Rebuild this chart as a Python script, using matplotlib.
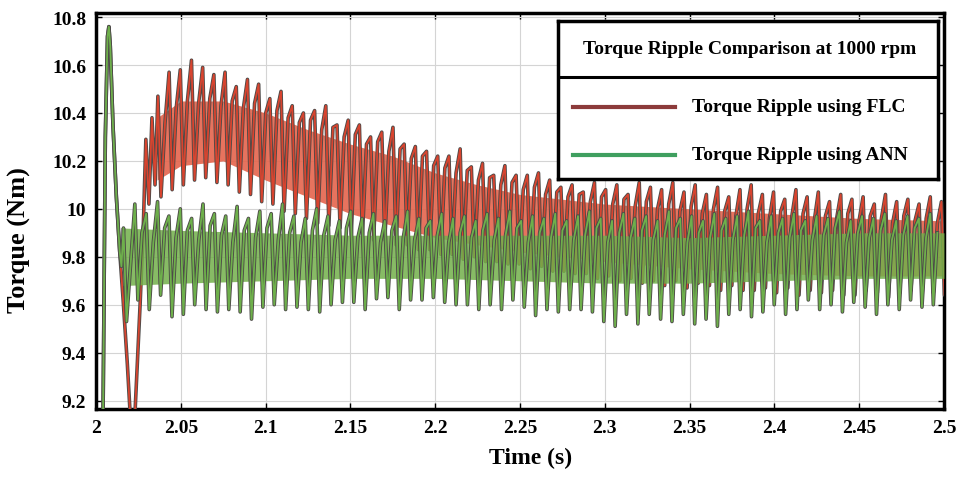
import numpy as np
import matplotlib.pyplot as plt
import matplotlib.patheffects as pe
from matplotlib.ticker import FormatStrFormatter, MultipleLocator

plt.rcParams['font.family'] = ['Liberation Serif', 'DejaVu Serif']
plt.rcParams['font.weight'] = 'bold'

# start-up transient, common to both drives (s, Nm)
start_t = [2.0, 2.0040, 2.0055, 2.0068, 2.0076, 2.0084, 2.0100, 2.0120, 2.0140]
start_v = [8.60, 9.00, 10.30, 10.72, 10.76, 10.68, 10.35, 10.05, 9.82]

# FLC: dip below the axis, then rise into the ripple
flc_tr_t = [2.0160, 2.0185, 2.0205, 2.0220, 2.0240, 2.0260, 2.0280, 2.0294, 2.0312, 2.0330, 2.0348]
flc_tr_v = [9.62, 9.35, 9.10, 9.00, 9.30, 9.60, 9.95, 10.29, 10.02, 10.38, 10.10]

# FLC ripple: spike top, spike bottom and sub-peak of each cycle from 2.0365 s
flc_t0, flc_period = 2.0365, 0.0066
flc_peak = [10.47, 10.57, 10.58, 10.62, 10.59, 10.56, 10.57, 10.51, 10.54, 10.52,
            10.46, 10.49, 10.43, 10.40, 10.41, 10.43, 10.35, 10.37, 10.35, 10.30,
            10.32, 10.34, 10.27, 10.26, 10.24, 10.22, 10.22, 10.25, 10.175, 10.19,
            10.14, 10.18, 10.14, 10.14, 10.15, 10.12, 10.09, 10.10, 10.07, 10.11,
            10.08, 10.10, 10.06, 10.11, 10.09, 10.08, 10.11, 10.07, 10.10, 10.06,
            10.09, 10.05, 10.08, 10.10, 10.06, 10.07, 10.04, 10.08, 10.05, 10.07,
            10.03, 10.06, 10.04, 10.05, 10.02, 10.06, 10.03, 10.04, 10.02, 10.05,
            10.03]
flc_trough = [10.05, 10.08, 10.10, 10.12, 10.13, 10.11, 10.10, 10.07, 10.06, 10.03,
              10.02, 9.99, 9.98, 9.96, 9.94, 9.93, 9.92, 9.89, 9.89, 9.87,
              9.87, 9.85, 9.85, 9.83, 9.83, 9.81, 9.81, 9.79, 9.80, 9.78,
              9.78, 9.77, 9.77, 9.75, 9.76, 9.74, 9.74, 9.73, 9.73, 9.71,
              9.72, 9.70, 9.71, 9.69, 9.70, 9.68, 9.70, 9.67, 9.69, 9.68,
              9.66, 9.68, 9.66, 9.66, 9.67, 9.65, 9.67, 9.64, 9.66, 9.65,
              9.66, 9.64, 9.64, 9.66, 9.65, 9.63, 9.65, 9.66, 9.64, 9.65,
              9.64]
flc_mid = [10.36, 10.42, 10.45, 10.44, 10.46, 10.43, 10.45, 10.42, 10.44, 10.40,
           10.41, 10.38, 10.36, 10.37, 10.33, 10.34, 10.30, 10.31, 10.27, 10.28,
           10.24, 10.25, 10.21, 10.22, 10.18, 10.17, 10.15, 10.16, 10.12, 10.13,
           10.10, 10.11, 10.08, 10.09, 10.06, 10.07, 10.05, 10.06, 10.03, 10.05,
           10.02, 10.04, 10.01, 10.03, 10.00, 10.02, 9.99, 10.01, 9.98, 10.00,
           9.99, 9.97, 10.00, 9.98, 9.96, 9.99, 9.97, 9.98, 9.95, 9.97,
           9.96, 9.98, 9.95, 9.97, 9.96, 9.94, 9.97, 9.95, 9.96, 9.94,
           9.96]

# dense part of the FLC band
flc_band_t = [2.036, 2.05, 2.075, 2.10, 2.125, 2.15, 2.175, 2.20, 2.225, 2.25, 2.30, 2.35, 2.40, 2.45, 2.50]
flc_band_lo = [10.12, 10.18, 10.20, 10.12, 10.05, 9.98, 9.93, 9.88, 9.85, 9.82, 9.78, 9.75, 9.73, 9.72, 9.72]
flc_band_hi = [10.38, 10.45, 10.45, 10.40, 10.33, 10.27, 10.22, 10.15, 10.10, 10.06, 10.02, 10.00, 9.98, 9.96, 9.95]

# ANN: leaves the transient here, then ripples around 9.8
ann_tr_t = [2.0150, 2.0162, 2.0180]
ann_tr_v = [9.76, 9.92, 9.53]

ann_t0, ann_period = 2.0247, 0.0067   # times of the downward spikes
ann_peak = [10.02, 9.98, 10.03, 9.97, 10.00, 9.96, 10.02, 9.98, 9.97, 10.01,
            9.96, 9.99, 9.98, 10.02, 9.97, 9.96, 10.00, 9.97, 9.95, 9.99,
            9.96, 9.98, 9.95, 9.97, 9.99, 9.96, 9.95, 9.98, 9.96, 9.97,
            9.95, 9.98, 9.96, 9.99, 9.95, 9.97, 9.96, 9.98, 9.95, 9.97,
            9.99, 9.96, 9.95, 9.98, 9.96, 9.97, 9.95, 9.99, 9.96, 9.97,
            9.95, 9.98, 9.96, 9.97, 9.99, 9.95, 9.97, 9.96, 9.98, 9.95,
            9.97, 9.96, 9.99, 9.95, 9.97, 9.96, 9.98, 9.95, 9.97, 9.96,
            9.98]
ann_trough = [9.62, 9.58, 9.64, 9.55, 9.56, 9.60, 9.58, 9.57, 9.58, 9.57,
              9.54, 9.59, 9.60, 9.58, 9.59, 9.58, 9.57, 9.60, 9.61, 9.61,
              9.58, 9.625, 9.63, 9.58, 9.62, 9.62, 9.63, 9.61, 9.60, 9.60,
              9.58, 9.60, 9.58, 9.62, 9.59, 9.555, 9.58, 9.57, 9.58, 9.58,
              9.57, 9.53, 9.51, 9.56, 9.52, 9.56, 9.54, 9.53, 9.56, 9.52,
              9.54, 9.51, 9.56, 9.58, 9.55, 9.57, 9.60, 9.56, 9.58, 9.62,
              9.58, 9.60, 9.57, 9.61, 9.59, 9.56, 9.60, 9.58, 9.62, 9.59,
              9.60]
ann_mid = [9.90, 9.86, 9.92, 9.88, 9.91, 9.87, 9.93, 9.89, 9.86, 9.91,
           9.88, 9.92, 9.87, 9.90, 9.86, 9.91, 9.89, 9.87, 9.92, 9.88,
           9.90, 9.86, 9.91, 9.88, 9.87, 9.92, 9.89, 9.86, 9.90, 9.88,
           9.91, 9.87, 9.89, 9.92, 9.86, 9.90, 9.88, 9.91, 9.87, 9.89,
           9.92, 9.86, 9.90, 9.88, 9.91, 9.87, 9.89, 9.92, 9.86, 9.90,
           9.88, 9.91, 9.87, 9.89, 9.92, 9.86, 9.90, 9.88, 9.91, 9.87,
           9.89, 9.92, 9.86, 9.90, 9.88, 9.91, 9.87, 9.89, 9.92, 9.88,
           9.90]

ann_band_t = [2.016, 2.05, 2.10, 2.15, 2.20, 2.25, 2.30, 2.35, 2.40, 2.45, 2.50]
ann_band_lo = [9.68, 9.69, 9.70, 9.71, 9.71, 9.70, 9.69, 9.69, 9.70, 9.71, 9.71]
ann_band_hi = [9.92, 9.91, 9.90, 9.89, 9.89, 9.89, 9.89, 9.88, 9.89, 9.90, 9.90]

legend_title = 'Torque Ripple Comparison at 1000 rpm'
label_flc = 'Torque Ripple using FLC'
label_ann = 'Torque Ripple using ANN'


def cycles(t0, period, offsets, series):
    # each cycle visits its listed values at fixed offsets inside the period
    k = np.arange(len(series[0]))
    t = (t0 + k * period)[:, None] + np.array(offsets)[None, :]
    v = np.column_stack(series)
    return list(t.ravel()), list(v.ravel())


fig = plt.figure(figsize=(9.6, 4.81), dpi=100)
ax = fig.add_axes([96 / 960, 1 - 410 / 481, 848 / 960, 396 / 481])

edge = [pe.Stroke(linewidth=2.6, foreground='#4d4a48'), pe.Normal()]

# FLC
ft, fv = cycles(flc_t0, flc_period, [0.0, 0.0018, 0.0042], [flc_peak, flc_trough, flc_mid])
ax.fill_between(flc_band_t, flc_band_lo, flc_band_hi, color='#e5644c', lw=0, alpha=0.9, zorder=2)
ax.plot(start_t + flc_tr_t + ft, start_v + flc_tr_v + fv,
        color='#d8442f', lw=1.3, zorder=3, path_effects=edge)

# ANN
at, av = cycles(ann_t0, ann_period, [-0.0018, 0.0, 0.0024], [ann_peak, ann_trough, ann_mid])
ax.fill_between(ann_band_t, ann_band_lo, ann_band_hi, color='#72b04a', lw=0, alpha=0.85, zorder=4)
ax.plot(start_t + ann_tr_t + at, start_v + ann_tr_v + av,
        color='#70b64c', lw=1.3, zorder=5, alpha=0.95, path_effects=edge)

ax.set_xlim(2.0, 2.5)
ax.set_ylim(9.165, 10.817)
ax.xaxis.set_major_locator(MultipleLocator(0.05))
ax.yaxis.set_major_locator(MultipleLocator(0.2))
ax.xaxis.set_major_formatter(FormatStrFormatter('%g'))
ax.yaxis.set_major_formatter(FormatStrFormatter('%g'))
ax.grid(True, color='#d4d4d4', lw=0.8)
ax.tick_params(direction='in', top=True, right=True, length=4, width=1,
               labelsize=14, pad=7)
for s in ax.spines.values():
    s.set_linewidth(2.5)
ax.set_xlabel('Time (s)', fontsize=17, fontweight='bold')
ax.xaxis.set_label_coords(0.512, -0.095)
ax.set_ylabel('Torque (Nm)', fontsize=19, fontweight='bold')
ax.yaxis.set_label_coords(-0.077, 0.43)

# legend box
lg = fig.add_axes([558 / 960, 1 - 180 / 481, 380 / 960, 158 / 481])
lg.set_xlim(0, 1)
lg.set_ylim(0, 1)
lg.set_xticks([])
lg.set_yticks([])
lg.set_facecolor('white')
for s in lg.spines.values():
    s.set_linewidth(2.5)
lg.axhline(0.646, color='black', lw=2.2)
lg.text(0.503, 0.823, legend_title, ha='center', va='center', fontsize=14, fontweight='bold')
lg.plot([0.039, 0.308], [0.456, 0.456], color='#8c3b3b', lw=3)
lg.plot([0.039, 0.308], [0.152, 0.152], color='#3f9f5f', lw=3)
lg.text(0.353, 0.456, label_flc, ha='left', va='center', fontsize=14, fontweight='bold')
lg.text(0.353, 0.152, label_ann, ha='left', va='center', fontsize=14, fontweight='bold')

fig.savefig('out.png', dpi=100)
